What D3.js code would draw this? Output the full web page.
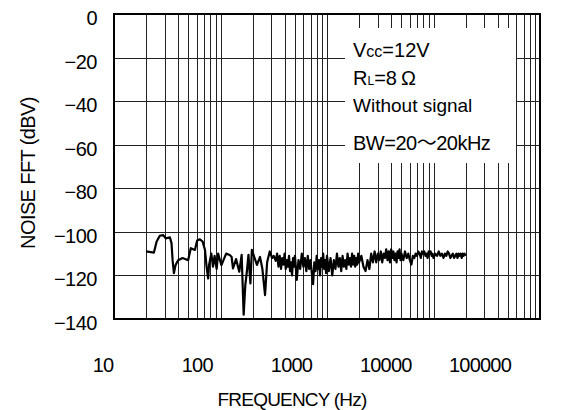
<!DOCTYPE html>
<html>
<head>
<script src="https://cdnjs.cloudflare.com/ajax/libs/d3/7.8.5/d3.min.js"></script>
<style>
  body { margin: 0; background: #fff; }
  svg text { font-family: "Liberation Sans", Arial, sans-serif; fill: #000; }
</style>
</head>
<body>
<div id="chart"></div>
<script>
// x ticks (Hz) and y ticks (dBV)
const freqTicks = [10, 100, 1000, 10000, 100000];
const dbTicks = [0, -20, -40, -60, -80, -100, -120, -140];

// noise FFT trace, [Hz, dBV]
const noiseFFT = [
  [20,-109],[23.7,-109.5],[25.1,-104.5],[26.9,-101.8],[29,-101.5],[30.6,-103],[33.5,-102.5],
  [34.7,-105.3],[35.5,-113],[36.5,-119],[37.8,-115.3],[40,-113],[44,-112],[49.7,-113],
  [52.6,-107.5],[57.5,-108.3],[60.4,-104],[64,-103.4],[68,-104.5],[71.5,-108.3],[74,-116],
  [76.6,-121.4],[78,-115.3],[82,-110],[85,-116],[88,-111],[92,-117],[95,-110],[102,-115.3],
  [113,-110],[122,-110.6],[127,-111.4],[131,-116.8],[140,-112.5],[150,-118.3],[158,-110.6],
  [165,-138],[171,-124.4],[177,-118],[183,-110.6],[191,-123.7],[197,-108.3],[209,-112],
  [220,-115.2],[235,-111.5],[247,-116.8],[262,-129],[274,-114],[290,-109],[305,-112],
  [316,-111],[330,-113.3],
  [340,-110],[350,-116],[360,-111],[370,-117],[380,-112],[390,-115],[400,-110],[410,-117],
  [420,-113],[430,-116],[440,-111],[450,-118],[460,-114],[470,-120],[480,-112],[490,-116],[500,-111],
  [520,-122],[540,-113],[560,-117],[580,-110],[600,-116],[620,-112],[640,-118],[660,-111],
  [680,-117],[700,-113],[720,-119],[740,-124],[760,-114],[780,-118],[800,-111],[820,-117],
  [840,-113],[860,-120],[880,-112],[900,-116],[920,-110],[940,-117],[960,-113],[980,-119],[1000,-111],
  [1040,-118],[1080,-112],[1120,-120],[1160,-113],[1200,-117],[1240,-110],[1280,-116],[1320,-112],
  [1360,-118],[1400,-111],[1440,-116],[1480,-113],[1520,-117],[1560,-110],[1600,-115],[1640,-112],
  [1680,-116],[1720,-110],[1760,-115],[1800,-111],[1840,-116],[1880,-112],[1920,-115],[1960,-110],[2000,-114],
  [2100,-111],[2200,-116],[2300,-118],[2400,-113],[2500,-117],[2600,-110],[2700,-114],[2800,-109],
  [2900,-114],[3000,-110],[3100,-113],[3200,-109],[3300,-114],[3400,-110],[3500,-112],[3600,-108],
  [3700,-113],[3800,-109],[3900,-114],[4000,-108],[4100,-112],[4200,-109],[4300,-113],[4400,-110],
  [4500,-114],[4600,-109],[4700,-112],[4800,-108],[4900,-113],[5000,-110],
  [5200,-113],[5400,-109],[5600,-112],[5800,-110],[6000,-113],[6200,-115],[6400,-111],[6600,-112],
  [6800,-110],[7000,-111],[7200,-109],[7400,-110],[7600,-112],[7800,-109],[8000,-110],[8200,-109],
  [8400,-111],[8600,-110],[8800,-112],[9000,-109],[9200,-110],[9400,-109],[9600,-111],[9800,-110],[10000,-112],
  [10400,-110],[10800,-111],[11200,-109],[11600,-111],[12000,-110],[12400,-112],[12800,-110],[13200,-111],
  [13600,-109],[14000,-110],[14400,-112],[14800,-111],[15200,-110],[15600,-112],[16000,-111],[16400,-110],
  [16800,-112],[17200,-110],[17600,-111],[18000,-110],[18400,-112],[18800,-110],[19200,-111],[19600,-110],[20000,-111]
];

const conditions = ["Vcc=12V", "RL=8Ω", "Without signal", "BW=20～20kHz"];

const W = 588, H = 410;
const margin = { top: 14, right: 48, bottom: 91, left: 114 };
const width = W - margin.left - margin.right, height = H - margin.top - margin.bottom;

const svg = d3.select("#chart").append("svg").attr("width", W).attr("height", H);
const g = svg.append("g").attr("transform", "translate(" + margin.left + "," + margin.top + ")");

const x = d3.scaleLog().domain([10, 100000]).range([0, width]);
const y = d3.scaleLinear().domain([-140, 0]).range([height, 0]);
// the tick labels in the original sit a bit left of their grid lines
const xLabel = d3.scaleLog().domain([10, 100000]).range([-11, 366]);

// grid: every 1..9 per decade
let vLines = [];
for (let d = 10; d < 100000; d *= 10) {
  for (let k = 1; k <= 9; k++) vLines.push(d * k);
}
vLines.push(100000);

g.selectAll(".vgrid").data(vLines).enter().append("line")
  .attr("x1", d => Math.round(x(d)) + 0.5).attr("x2", d => Math.round(x(d)) + 0.5)
  .attr("y1", 0).attr("y2", height)
  .attr("stroke", "#222").attr("stroke-width", 1);

g.selectAll(".hgrid").data(dbTicks).enter().append("line")
  .attr("x1", 0).attr("x2", width)
  .attr("y1", d => Math.round(y(d)) + 0.5).attr("y2", d => Math.round(y(d)) + 0.5)
  .attr("stroke", "#222").attr("stroke-width", 1);

// white box behind the conditions text
g.append("rect")
  .attr("x", 231).attr("y", 14).attr("width", 171).attr("height", 135)
  .attr("fill", "#fff");

// noise curve
const line = d3.line().x(d => x(d[0])).y(d => y(d[1]));
g.append("path").datum(noiseFFT)
  .attr("d", line).attr("fill", "none")
  .attr("stroke", "#000").attr("stroke-width", 2.2).attr("stroke-linejoin", "round");

// frame
g.append("rect").attr("width", width).attr("height", height)
  .attr("fill", "none").attr("stroke", "#000").attr("stroke-width", 2);

// y labels
g.selectAll(".ylab").data(dbTicks).enter().append("text")
  .attr("x", -17).attr("y", d => y(d) + 11)
  .attr("text-anchor", "end").style("font-size", "20px").style("letter-spacing", "-0.5px")
  .text(d => d === 0 ? "0" : "\u2212" + Math.abs(d));

// x labels
g.selectAll(".xlab").data(freqTicks).enter().append("text")
  .attr("x", d => xLabel(d)).attr("y", height + 53)
  .attr("text-anchor", "middle").style("font-size", "20px").style("letter-spacing", "-0.8px")
  .text(d => d);

// axis titles
svg.append("text")
  .attr("x", 292).attr("y", 406).attr("text-anchor", "middle")
  .style("font-size", "19px").style("letter-spacing", "-0.8px")
  .text("FREQUENCY (Hz)");

svg.append("text")
  .attr("transform", "translate(35,173) rotate(-90)").attr("text-anchor", "middle")
  .style("font-size", "20px").style("letter-spacing", "-0.6px")
  .text("NOISE FFT (dBV)");

// conditions
const tx = 353;
const t1 = svg.append("text").attr("x", tx).attr("y", 57).style("font-size", "20px");
t1.append("tspan").text("V");
t1.append("tspan").style("font-size", "16px").text("cc");
t1.append("tspan").text("=12V");

const t2 = svg.append("text").attr("x", tx).attr("y", 85).style("font-size", "20px");
t2.append("tspan").text("R");
t2.append("tspan").style("font-size", "12px").text("L");
t2.append("tspan").text("=8\u2009Ω");

svg.append("text").attr("x", tx).attr("y", 112).style("font-size", "19px").text(conditions[2]);

const t4 = svg.append("text").attr("x", tx).attr("y", 150).style("font-size", "20px").style("letter-spacing", "-0.5px");
t4.append("tspan").text("BW=20");
t4.append("tspan").style("font-family", "'Noto Sans CJK JP', sans-serif").text("\u301C");
t4.append("tspan").text("20kHz");
</script>
</body>
</html>
